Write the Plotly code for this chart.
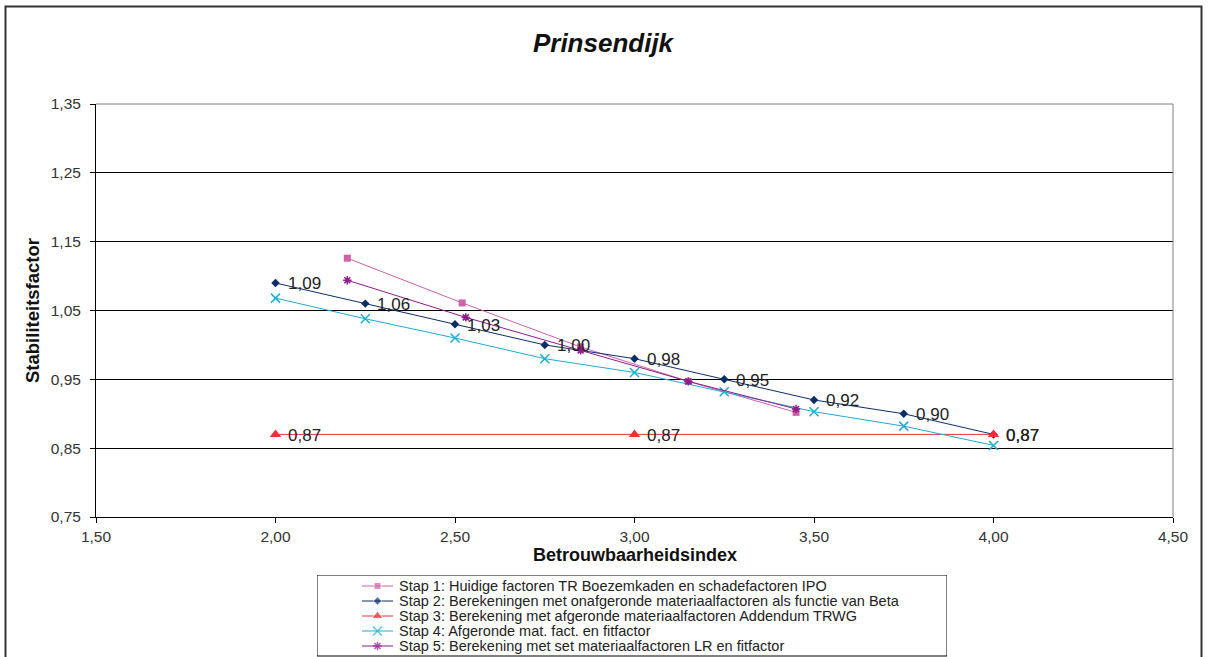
import plotly.graph_objects as go

# Betrouwbaarheidsindex (beta) per berekening
beta_grid = [2.00, 2.25, 2.50, 2.75, 3.00, 3.25, 3.50, 3.75, 4.00]
beta_stap1 = [2.20, 2.52, 2.85, 3.15, 3.45]
beta_stap3 = [2.00, 3.00, 4.00]
beta_stap5 = [2.20, 2.53, 2.85, 3.15, 3.45]

# Stabiliteitsfactoren
stap1 = [1.126, 1.061, 0.997, 0.947, 0.902]
stap2 = [1.09, 1.06, 1.03, 1.00, 0.98, 0.95, 0.92, 0.90, 0.87]
stap3 = [0.87, 0.87, 0.87]
stap4 = [1.068, 1.038, 1.010, 0.980, 0.960, 0.932, 0.903, 0.882, 0.854]
stap5 = [1.094, 1.040, 0.992, 0.947, 0.907]

names = [
    "Stap 1: Huidige factoren TR Boezemkaden en schadefactoren IPO",
    "Stap 2: Berekeningen met onafgeronde materiaalfactoren als functie van Beta",
    "Stap 3: Berekening met afgeronde materiaalfactoren Addendum TRWG",
    "Stap 4: Afgeronde mat. fact. en fitfactor",
    "Stap 5: Berekening met set materiaalfactoren LR en fitfactor",
]

FONT = "Liberation Sans, Arial, sans-serif"
LABEL_FONT = dict(family=FONT, size=17, color="#222222")

# series styles: (colour, marker symbol, marker size)
styles = [
    ("#CC62A8", "square", 7),
    ("#0B2E66", "diamond", 6.5),
    ("#EE3138", "triangle-up", 10),
    ("#1AAED0", "x-thin", 9),
    ("#8E1A8C", "asterisk-open", 7),
]


def fmt(v):
    return f"{v:.2f}".replace(".", ",")


def marker(i, size=None):
    col, sym, sz = styles[i]
    m = dict(symbol=sym, size=sz if size is None else size, color=col)
    if sym in ("x-thin", "asterisk-open"):
        m["line"] = dict(color=col, width=1.5)
    return m


series = [
    (beta_stap1, stap1, False),
    (beta_grid, stap2, True),
    (beta_stap3, stap3, True),
    (beta_grid, stap4, False),
    (beta_stap5, stap5, False),
]

fig = go.Figure()
for i, (xs, ys, labelled) in enumerate(series):
    fig.add_trace(go.Scatter(
        x=xs, y=ys, name=names[i], mode="lines+markers",
        line=dict(color=styles[i][0], width=1),
        marker=marker(i),
        showlegend=False, xaxis="x", yaxis="y",
    ))
    if labelled:
        # value labels to the right of each point
        for xv, yv in zip(xs, ys):
            fig.add_annotation(
                x=xv, y=yv, xref="x", yref="y", text=fmt(yv),
                showarrow=False, xanchor="left", yanchor="middle",
                xshift=10, yshift=-1, font=LABEL_FONT,
            )

# ---- page geometry (pixels) ----
W, H = 1208, 657
L, R, T, B = 96, 35, 104, 0
pw, ph = W - L - R, H - T - B
plot_bottom = 517


def fx(p):
    return (p - L) / pw


def fy(p):
    return (H - B - p) / ph


# ---- legend panel drawn on its own hidden axes ----
LEG_X0, LEG_X1, LEG_Y0, LEG_Y1 = 317, 947, 575, 657
leg_w, leg_h = LEG_X1 - LEG_X0, LEG_Y1 - LEG_Y0
row_first, row_step = 11, 15
key_x0, key_x1, text_x = 45, 76, 80

for i in range(len(names)):
    ry = row_first + row_step * i
    fig.add_trace(go.Scatter(
        x=[key_x0, (key_x0 + key_x1) / 2, key_x1], y=[ry, ry, ry],
        mode="lines+markers",
        line=dict(color=styles[i][0], width=1),
        marker=dict(marker(i), size=[0, styles[i][2], 0]),
        showlegend=False, hoverinfo="skip", xaxis="x2", yaxis="y2",
    ))
    fig.add_annotation(
        x=text_x, y=ry, xref="x2", yref="y2", text=names[i],
        showarrow=False, xanchor="left", yanchor="middle",
        font=dict(family=FONT, size=14.5, color="#222222"),
    )

# x-axis title
fig.add_annotation(
    x=0.5, y=fy(555), xref="paper", yref="paper",
    text="<b>Betrouwbaarheidsindex</b>", showarrow=False,
    xanchor="center", yanchor="middle",
    font=dict(family=FONT, size=18, color="#111111"),
)

fig.update_layout(
    width=W, height=H,
    margin=dict(l=L, r=R, t=T, b=B, autoexpand=False),
    paper_bgcolor="white", plot_bgcolor="white",
    separators=",.",
    font=dict(family=FONT, size=15, color="#333333"),
    showlegend=False,
    title=dict(
        text="<b><i>Prinsendijk</i></b>", x=603 / W, xanchor="center",
        y=1 - 43 / H, yanchor="middle",
        font=dict(family=FONT, size=26, color="#111111"),
    ),
    xaxis=dict(
        domain=[0, 1], anchor="y",
        range=[1.5, 4.5], dtick=0.5, tick0=1.5, tickformat=".2f",
        showgrid=False, zeroline=False,
        showline=True, linecolor="#000000", linewidth=1,
        ticks="outside", ticklen=5, tickcolor="#000000",
        ticklabelstandoff=0,
        tickfont=dict(family=FONT, size=15.5, color="#333333"),
    ),
    yaxis=dict(
        domain=[fy(plot_bottom), 1], anchor="x",
        range=[0.75, 1.35], dtick=0.1, tick0=0.75, tickformat=".2f",
        showgrid=True, gridcolor="#000000", gridwidth=1, zeroline=False,
        showline=True, linecolor="#000000", linewidth=1,
        ticks="outside", ticklen=5, tickcolor="#000000",
        ticklabelstandoff=6,
        tickfont=dict(family=FONT, size=15.5, color="#333333"),
        title=dict(text="<b>Stabiliteitsfactor</b>", standoff=6,
                   font=dict(family=FONT, size=18.5, color="#111111")),
    ),
    xaxis2=dict(domain=[fx(LEG_X0), fx(LEG_X1)], anchor="y2",
                range=[0, leg_w], visible=False, fixedrange=True),
    yaxis2=dict(domain=[fy(LEG_Y1), fy(LEG_Y0)], anchor="x2",
                range=[leg_h, 0], visible=False, fixedrange=True),
    shapes=[
        # grey top and right edges of the plot area
        dict(type="line", xref="paper", yref="paper", x0=0, x1=1, y0=1, y1=1,
             line=dict(color="#808080", width=1), layer="above"),
        dict(type="line", xref="paper", yref="paper", x0=1, x1=1,
             y0=fy(plot_bottom), y1=1,
             line=dict(color="#808080", width=1), layer="above"),
        # legend frame
        dict(type="rect", xref="x2", yref="y2", x0=0, x1=leg_w, y0=0,
             y1=leg_h - 1, line=dict(color="#000000", width=1),
             fillcolor="rgba(0,0,0,0)", layer="above"),
        # outer chart frame
        dict(type="rect", xref="paper", yref="paper",
             x0=fx(5.5), x1=fx(1201.5), y0=fy(700), y1=fy(6.5),
             line=dict(color="#333333", width=2), layer="below"),
    ],
)

fig.write_html("out.html")
